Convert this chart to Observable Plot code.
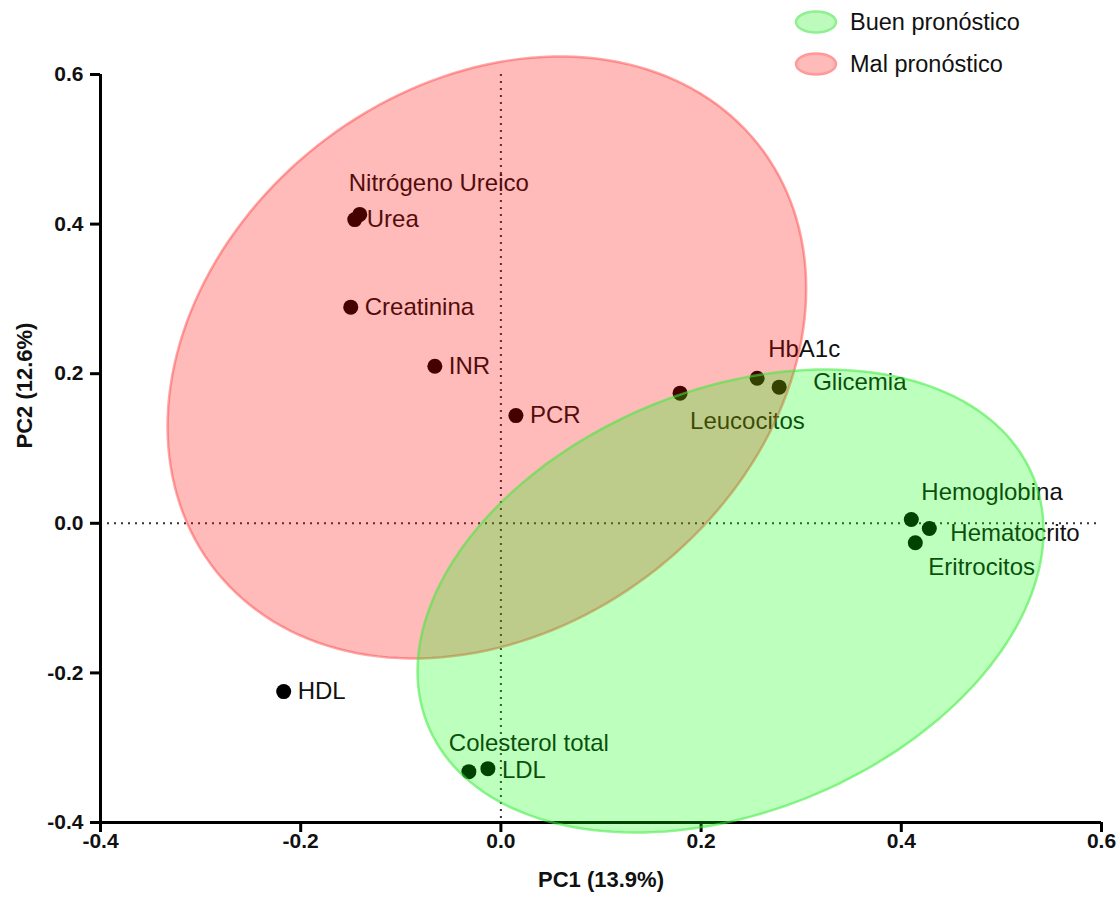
<!DOCTYPE html>
<html><head><meta charset="utf-8">
<script src="https://cdn.jsdelivr.net/npm/d3@7"></script>
<script src="https://cdn.jsdelivr.net/npm/@observablehq/plot@0.6"></script>
<style>
body{margin:0;background:#fff;font-family:"Liberation Sans",Arial,sans-serif;}
#wrap{position:relative;width:1120px;height:902px;}
#legend{position:absolute;left:793px;top:1px;font-size:23.5px;color:#111;}
.item{display:flex;align-items:center;height:42px;}
.item svg{margin-right:11px;}
</style></head><body><div id="wrap"><div id="legend"></div></div>
<script>
// ---- data ----
const variables = ["Nitrógeno Ureico","Urea","Creatinina","INR","PCR","Leucocitos","HbA1c","Glicemia","Hemoglobina","Hematocrito","Eritrocitos","HDL","Colesterol total","LDL"];
const pc1 = [-0.141,-0.146,-0.150,-0.066,0.015,0.179,0.256,0.278,0.410,0.428,0.414,-0.217,-0.032,-0.013];
const pc2 = [0.413,0.406,0.289,0.210,0.144,0.174,0.194,0.182,0.005,-0.007,-0.026,-0.225,-0.332,-0.328];

const groupNames = ["Buen pronóstico","Mal pronóstico"];
const ellipseCenterX = [0.2294,-0.014];
const ellipseCenterY = [-0.1039,0.2217];
const ellipseHalfWidth = [0.3127,0.319];
const ellipseHalfHeight = [0.3095,0.4024];
const ellipseCorrelation = [0.3035,0.229];

const xTicks = [-0.4,-0.2,0.0,0.2,0.4,0.6];
const yTicks = [-0.4,-0.2,0.0,0.2,0.4,0.6];

// ---- label placement (px offsets) ----
const labelOffsets = {
  "Nitrógeno Ureico":[-11,-31],"Urea":[12,0],"Creatinina":[14,0],"INR":[14,0],"PCR":[14,0],
  "Leucocitos":[10,28],"HbA1c":[11,-29],"Glicemia":[34,-5],"Hemoglobina":[10,-27],
  "Hematocrito":[21,5],"Eritrocitos":[13,25],"HDL":[14,0],"Colesterol total":[-20,-28],"LDL":[14,2]
};
const groupFill = ["rgba(0,255,0,0.26)","rgba(255,0,0,0.27)"];
const groupStroke = ["rgba(60,235,60,0.55)","rgba(255,60,60,0.45)"];

const points = variables.map((v,i)=>({name:v,x:pc1[i],y:pc2[i]}));

function ellipsePath(g){
  const out=[]; const r=ellipseCorrelation[g], s=Math.sqrt(1-r*r);
  for(let k=0;k<=180;k++){
    const t=k/180*2*Math.PI;
    out.push({x:ellipseCenterX[g]+ellipseHalfWidth[g]*Math.cos(t),
              y:ellipseCenterY[g]+ellipseHalfHeight[g]*(r*Math.cos(t)+s*Math.sin(t))});
  }
  return out;
}

const fmt = d => d.toFixed(1);
const labelMarks = points.map(p => Plot.text([p], {
  x:"x", y:"y", text:"name", textAnchor:"start", lineAnchor:"middle",
  dx:labelOffsets[p.name][0], dy:labelOffsets[p.name][1], fontSize:24, fill:"#111"
}));

const plot = Plot.plot({
  width:1120, height:902,
  marginLeft:100, marginRight:19, marginTop:74, marginBottom:80,
  x:{domain:[-0.4,0.6]},
  y:{domain:[-0.4,0.6]},
  style:{fontFamily:"'Liberation Sans', Arial, sans-serif", background:"white", overflow:"visible"},
  marks:[
    Plot.ruleX([0],{stroke:"#333",strokeWidth:2,strokeDasharray:"2,5"}),
    Plot.ruleY([0],{stroke:"#333",strokeWidth:2,strokeDasharray:"2,5"}),
    Plot.dot(points,{x:"x",y:"y",r:7.5,fill:"#000",stroke:"none"}),
    ...labelMarks,
    Plot.axisX({ticks:xTicks, tickFormat:fmt, tickSize:10, tickPadding:1, strokeWidth:3, stroke:"#000", fontSize:21, fontWeight:"bold", fill:"#111", label:null}),
    Plot.axisY({ticks:yTicks, tickFormat:fmt, tickSize:10, tickPadding:7, strokeWidth:3, stroke:"#000", fontSize:21, fontWeight:"bold", fill:"#111", label:null}),
    Plot.ruleX([-0.4],{stroke:"#000",strokeWidth:3}),
    Plot.ruleY([-0.4],{stroke:"#000",strokeWidth:3, x1:-0.4, x2:0.6}),
    Plot.text(["PC1 (13.9%)"],{frameAnchor:"bottom", dy:64, fontSize:22, fontWeight:"bold", fill:"#111"}),
    Plot.text(["PC2 (12.6%)"],{frameAnchor:"left", dx:-76, rotate:-90, fontSize:22, fontWeight:"bold", fill:"#111"}),
    ...[1,0].map(g => Plot.line(ellipsePath(g),{x:"x",y:"y",curve:"linear-closed",fill:groupFill[g],stroke:groupStroke[g],strokeWidth:2.5}))
  ]
});
document.getElementById("wrap").prepend(plot);
plot.style.position="absolute"; plot.style.left="0"; plot.style.top="0";

const legend = document.getElementById("legend");
const legFill = ["#bdfbbd","#ffbaba"], legStroke=["#8ef08e","#ff9a9a"];
groupNames.forEach((n,g)=>{
  const d=document.createElement("div"); d.className="item";
  d.innerHTML=`<svg width="46" height="28"><ellipse cx="23" cy="14" rx="20" ry="10.5" fill="${legFill[g]}" stroke="${legStroke[g]}" stroke-width="2.5"/></svg><span>${n}</span>`;
  legend.appendChild(d);
});
</script></body></html>
